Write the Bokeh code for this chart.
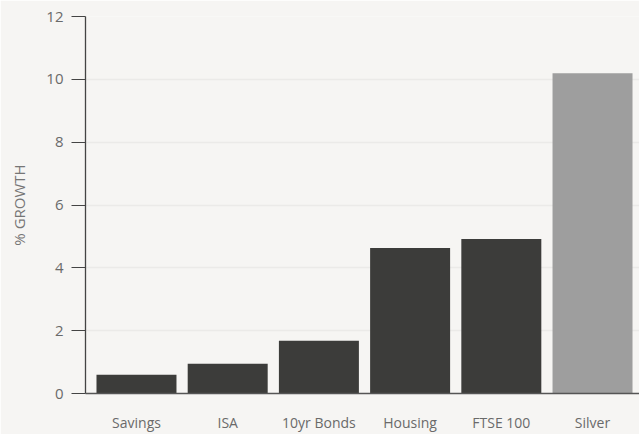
from bokeh.plotting import figure
from bokeh.models import Range1d, FixedTicker, ColumnDataSource
from bokeh.embed import file_html
from bokeh.resources import INLINE

categories = ["Savings", "ISA", "10yr Bonds", "Housing", "FTSE 100", "Silver"]
growth = [0.60, 0.95, 1.68, 4.63, 4.92, 10.19]
bar_colors = ["#3c3c3a", "#3c3c3a", "#3c3c3a", "#3c3c3a", "#3c3c3a", "#9e9e9e"]
y_ticks = [0, 2, 4, 6, 8, 10, 12]

xs = list(range(len(categories)))
src = ColumnDataSource(dict(x=xs, top=growth, color=bar_colors))

BG = "#f6f5f3"
FONT = "Open Sans"
TEXT = "#6a6a6a"

p = figure(width=639, height=434, output_backend="svg", toolbar_location=None,
           x_range=Range1d(-0.559, 5.515), y_range=Range1d(0, 12),
           background_fill_color=BG, border_fill_color=BG,
           min_border_left=85, min_border_right=0, min_border_top=16, min_border_bottom=40)
p.outline_line_color = None

p.vbar(x="x", top="top", width=0.877, bottom=0, color="color", source=src, line_color=None)

# y axis
p.yaxis.ticker = FixedTicker(ticks=y_ticks)
p.yaxis.axis_label = "% GROWTH"
p.yaxis.axis_label_text_font = FONT
p.yaxis.axis_label_text_font_style = "normal"
p.yaxis.axis_label_text_font_size = "15px"
p.yaxis.axis_label_text_color = "#767676"
p.yaxis.axis_label_standoff = 14
p.yaxis.major_label_text_font = FONT
p.yaxis.major_label_text_font_size = "15px"
p.yaxis.major_label_text_color = TEXT
p.yaxis.major_tick_out = 14
p.yaxis.major_tick_in = 0
p.yaxis.minor_tick_out = 0
p.yaxis.minor_tick_in = 0
p.yaxis.major_label_standoff = 8
p.yaxis.axis_line_color = "#444444"
p.yaxis.major_tick_line_color = "#444444"
p.yaxis.axis_line_width = 1.3

# x axis
p.xaxis.ticker = FixedTicker(ticks=xs)
p.xaxis.major_label_overrides = {i: c for i, c in zip(xs, categories)}
p.xaxis.major_label_text_font = FONT
p.xaxis.major_label_text_font_size = "14px"
p.xaxis.major_label_text_color = TEXT
p.xaxis.major_tick_out = 0
p.xaxis.major_tick_in = 0
p.xaxis.minor_tick_out = 0
p.xaxis.minor_tick_in = 0
p.xaxis.major_label_standoff = 19
p.xaxis.axis_line_color = "#555555"
p.xaxis.axis_line_width = 1.3

p.xgrid.grid_line_color = None
p.ygrid.grid_line_color = "#ebeae8"
p.ygrid.grid_line_width = 1.3

open("out.html", "w").write(file_html(p, INLINE))
